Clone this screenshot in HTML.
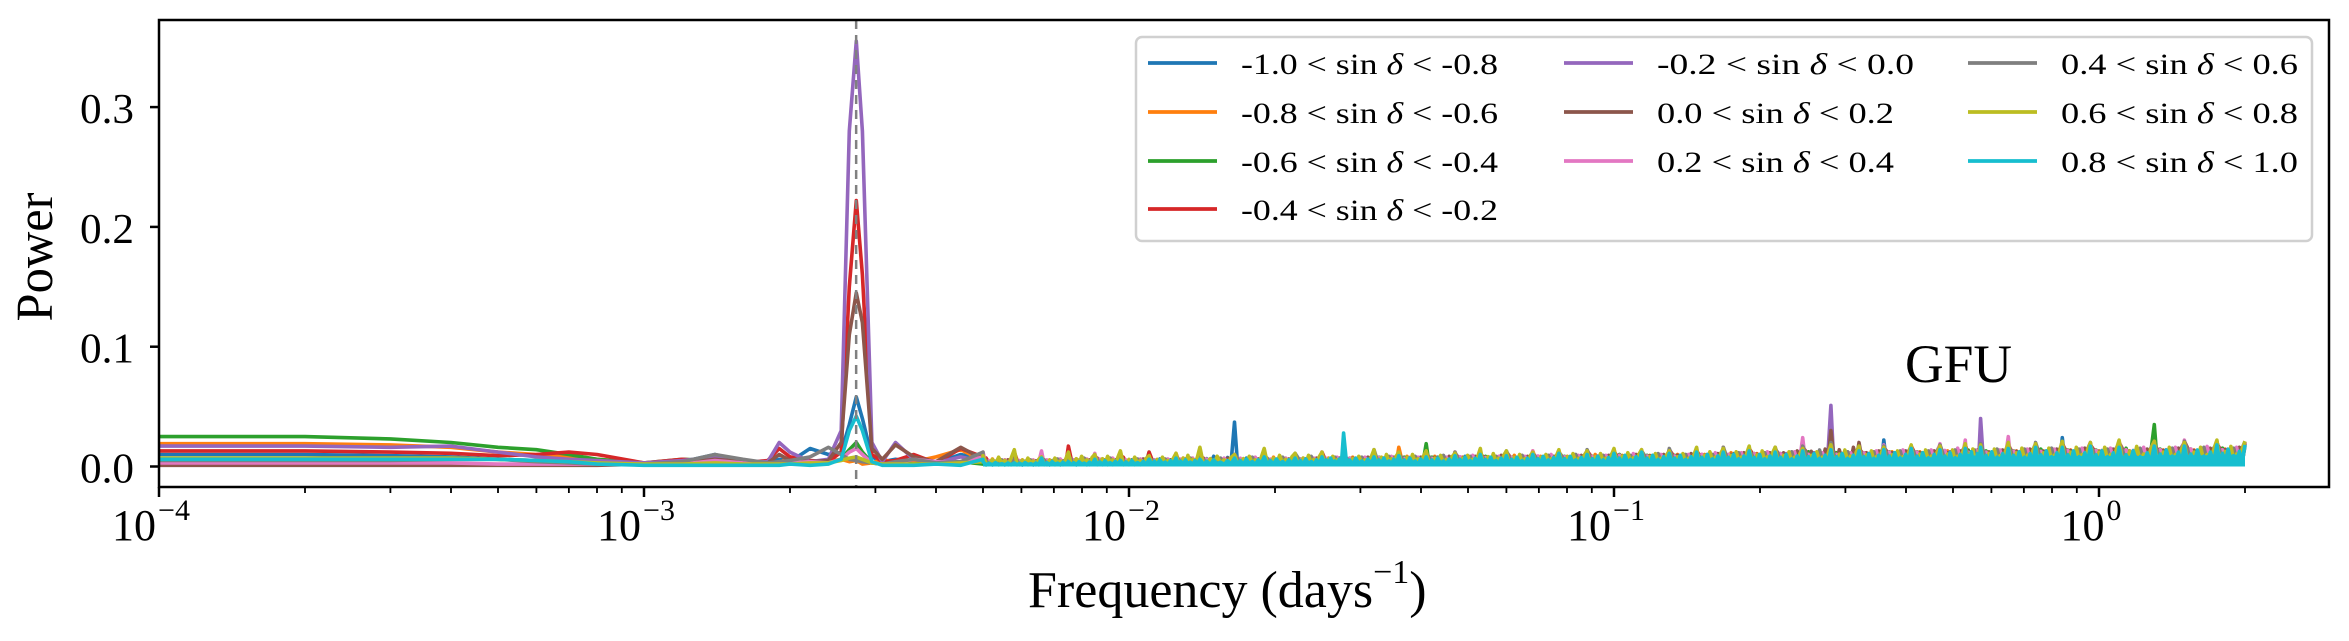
<!DOCTYPE html>
<html><head><meta charset="utf-8"><title>GFU periodogram</title>
<style>
html,body{margin:0;padding:0;background:#fff;}
svg{display:block;font-family:"Liberation Serif","DejaVu Serif",serif;}
</style></head>
<body>
<svg id="chart" width="2349" height="641" viewBox="0 0 2349 641" xmlns="http://www.w3.org/2000/svg">
<defs><clipPath id="plotclip"><rect x="159" y="20" width="2170" height="467"/></clipPath></defs>
<rect x="0" y="0" width="2349" height="641" fill="#fff"/>
<g id="series" clip-path="url(#plotclip)"></g>
<line id="vline" stroke="#808080" stroke-width="2.5" stroke-dasharray="9,6"/>
<rect x="159" y="20" width="2170" height="467" fill="none" stroke="#000" stroke-width="2.5"/>
<g id="axes"></g>
<text transform="translate(52,257) rotate(-90)" text-anchor="middle" font-size="52" textLength="129" lengthAdjust="spacingAndGlyphs">Power</text>
<text x="1028" y="607" font-size="52">Frequency (days<tspan font-size="34" dy="-24">−1</tspan><tspan dy="24">)</tspan></text>
<text x="1905" y="382" font-size="54" textLength="107" lengthAdjust="spacingAndGlyphs">GFU</text>
<g id="legend"></g>
</svg>
<script>
// ---- data ----
const seriesNames = ["-1.0 < sin δ < -0.8","-0.8 < sin δ < -0.6","-0.6 < sin δ < -0.4","-0.4 < sin δ < -0.2","-0.2 < sin δ < 0.0","0.0 < sin δ < 0.2","0.2 < sin δ < 0.4","0.4 < sin δ < 0.6","0.6 < sin δ < 0.8","0.8 < sin δ < 1.0"];
const seriesColors = ["#1f77b4","#ff7f0e","#2ca02c","#d62728","#9467bd","#8c564b","#e377c2","#7f7f7f","#bcbd22","#17becf"];
const yTicks = [0.0,0.1,0.2,0.3];
const yTickLabels = ["0.0","0.1","0.2","0.3"];
const xTickExps = [-4,-3,-2,-1,0];
const yearFreq = 0.002738;
const lowFreqs = [0.0001,0.0002,0.0003,0.0004,0.0005,0.0006,0.0007,0.0008,0.001,0.0012,0.0014,0.0016,0.0018,0.0019,0.002,0.0022,0.0024,0.00255,0.00265,0.00274,0.00282,0.00295,0.0031,0.0033,0.0036,0.004,0.0045,0.005];
const low0 = [0.010,0.010,0.009,0.008,0.006,0.005,0.004,0.003,0.002,0.004,0.010,0.004,0.003,0.006,0.004,0.015,0.010,0.012,0.035,0.058,0.040,0.008,0.004,0.006,0.004,0.003,0.010,0.006];
const low1 = [0.019,0.019,0.018,0.016,0.012,0.010,0.008,0.006,0.003,0.004,0.003,0.004,0.002,0.003,0.008,0.003,0.004,0.006,0.004,0.005,0.002,0.003,0.006,0.003,0.004,0.008,0.014,0.005];
const low2 = [0.025,0.025,0.023,0.020,0.016,0.014,0.010,0.006,0.003,0.006,0.005,0.003,0.002,0.002,0.003,0.002,0.003,0.006,0.014,0.020,0.012,0.003,0.002,0.003,0.002,0.003,0.004,0.002];
const low3 = [0.013,0.013,0.012,0.011,0.009,0.010,0.012,0.010,0.003,0.006,0.004,0.003,0.005,0.015,0.008,0.005,0.004,0.012,0.150,0.222,0.160,0.010,0.004,0.005,0.010,0.003,0.015,0.008];
const low4 = [0.017,0.017,0.016,0.017,0.012,0.008,0.006,0.005,0.003,0.005,0.008,0.004,0.004,0.020,0.012,0.004,0.006,0.030,0.280,0.355,0.280,0.020,0.004,0.020,0.006,0.003,0.008,0.004];
const low5 = [0.001,0.001,0.001,0.001,0.001,0.001,0.001,0.001,0.002,0.003,0.006,0.004,0.003,0.010,0.005,0.004,0.005,0.020,0.110,0.145,0.120,0.015,0.006,0.018,0.008,0.004,0.016,0.006];
const low6 = [0.003,0.003,0.003,0.003,0.002,0.002,0.002,0.002,0.002,0.002,0.005,0.003,0.002,0.004,0.003,0.004,0.003,0.006,0.012,0.015,0.010,0.003,0.002,0.003,0.006,0.004,0.003,0.008];
const low7 = [0.005,0.005,0.005,0.006,0.006,0.004,0.003,0.002,0.002,0.004,0.010,0.006,0.003,0.004,0.005,0.008,0.016,0.010,0.006,0.005,0.004,0.003,0.002,0.004,0.006,0.003,0.004,0.012];
const low8 = [0.007,0.007,0.007,0.007,0.006,0.005,0.004,0.003,0.002,0.002,0.003,0.002,0.002,0.002,0.002,0.003,0.003,0.005,0.007,0.008,0.006,0.003,0.002,0.002,0.002,0.002,0.003,0.004];
const low9 = [0.006,0.006,0.006,0.006,0.006,0.005,0.004,0.002,0.001,0.001,0.001,0.001,0.001,0.001,0.002,0.001,0.002,0.006,0.030,0.042,0.030,0.004,0.001,0.001,0.001,0.002,0.001,0.006];
const noiseFreqs = [0.005,0.0058,0.0066,0.0075,0.0085,0.0096,0.011,0.0125,0.014,0.0165,0.019,0.022,0.025,0.0277,0.032,0.036,0.041,0.047,0.053,0.06,0.068,0.077,0.088,0.1,0.114,0.13,0.148,0.168,0.19,0.215,0.245,0.28,0.32,0.36,0.41,0.47,0.53,0.57,0.65,0.74,0.84,0.96,1.1,1.3,1.5,1.75,2.0];
const noise0 = [0.006,0.004,0.007,0.005,0.008,0.006,0.009,0.007,0.010,0.037,0.008,0.006,0.010,0.007,0.012,0.008,0.009,0.011,0.010,0.008,0.012,0.009,0.011,0.010,0.013,0.011,0.012,0.015,0.013,0.012,0.014,0.016,0.013,0.022,0.014,0.016,0.015,0.020,0.014,0.016,0.024,0.015,0.017,0.016,0.018,0.015,0.017];
const noise1 = [0.007,0.010,0.006,0.008,0.007,0.009,0.006,0.011,0.008,0.007,0.010,0.009,0.008,0.011,0.009,0.016,0.010,0.012,0.009,0.011,0.013,0.010,0.012,0.014,0.011,0.013,0.012,0.016,0.014,0.013,0.015,0.018,0.014,0.016,0.015,0.017,0.016,0.015,0.018,0.016,0.017,0.019,0.016,0.018,0.017,0.019,0.018];
const noise2 = [0.004,0.006,0.005,0.009,0.006,0.005,0.012,0.006,0.007,0.008,0.006,0.010,0.007,0.008,0.011,0.009,0.019,0.009,0.010,0.012,0.009,0.011,0.010,0.013,0.012,0.011,0.014,0.012,0.015,0.013,0.016,0.015,0.014,0.017,0.015,0.016,0.018,0.017,0.016,0.018,0.020,0.017,0.019,0.035,0.018,0.021,0.019];
const noise3 = [0.008,0.012,0.006,0.017,0.008,0.009,0.012,0.007,0.008,0.009,0.007,0.008,0.012,0.009,0.008,0.010,0.009,0.011,0.010,0.012,0.011,0.010,0.013,0.012,0.011,0.014,0.013,0.012,0.015,0.014,0.016,0.020,0.015,0.016,0.017,0.015,0.019,0.016,0.018,0.017,0.019,0.018,0.020,0.018,0.021,0.019,0.020];
const noise4 = [0.005,0.004,0.006,0.005,0.007,0.006,0.008,0.007,0.006,0.008,0.007,0.009,0.008,0.010,0.009,0.011,0.010,0.009,0.011,0.010,0.012,0.011,0.013,0.012,0.011,0.013,0.012,0.014,0.013,0.015,0.016,0.051,0.015,0.017,0.016,0.018,0.017,0.040,0.017,0.019,0.018,0.020,0.019,0.021,0.020,0.019,0.021];
const noise5 = [0.006,0.009,0.005,0.007,0.006,0.008,0.007,0.006,0.009,0.008,0.007,0.009,0.008,0.009,0.010,0.009,0.011,0.010,0.012,0.011,0.010,0.012,0.011,0.013,0.012,0.014,0.013,0.015,0.014,0.016,0.018,0.030,0.020,0.016,0.017,0.016,0.018,0.017,0.019,0.018,0.020,0.019,0.018,0.020,0.019,0.021,0.020];
const noise6 = [0.012,0.006,0.013,0.007,0.011,0.008,0.007,0.009,0.008,0.010,0.009,0.008,0.010,0.009,0.011,0.010,0.009,0.012,0.011,0.010,0.013,0.012,0.011,0.013,0.014,0.012,0.015,0.014,0.016,0.015,0.024,0.014,0.016,0.018,0.017,0.019,0.022,0.017,0.025,0.018,0.020,0.019,0.021,0.020,0.022,0.021,0.020];
const noise7 = [0.008,0.006,0.007,0.009,0.008,0.010,0.007,0.009,0.008,0.010,0.009,0.011,0.010,0.009,0.014,0.010,0.011,0.012,0.010,0.013,0.011,0.012,0.014,0.011,0.013,0.015,0.012,0.016,0.014,0.015,0.017,0.020,0.015,0.017,0.016,0.018,0.017,0.019,0.018,0.020,0.019,0.018,0.020,0.019,0.021,0.020,0.019];
const noise8 = [0.009,0.014,0.008,0.012,0.010,0.013,0.009,0.011,0.016,0.010,0.015,0.011,0.012,0.010,0.014,0.012,0.013,0.011,0.015,0.013,0.012,0.014,0.013,0.015,0.014,0.013,0.016,0.015,0.017,0.016,0.015,0.018,0.017,0.016,0.018,0.017,0.019,0.018,0.020,0.019,0.021,0.020,0.022,0.021,0.020,0.022,0.021];
const noise9 = [0.004,0.003,0.007,0.004,0.006,0.005,0.006,0.007,0.006,0.007,0.008,0.007,0.008,0.028,0.008,0.009,0.008,0.009,0.010,0.009,0.010,0.011,0.010,0.011,0.012,0.011,0.012,0.012,0.013,0.012,0.013,0.014,0.013,0.014,0.015,0.014,0.015,0.016,0.015,0.016,0.016,0.017,0.016,0.017,0.017,0.018,0.018];
const lowSeries = [low0,low1,low2,low3,low4,low5,low6,low7,low8,low9];
const noiseSeries = [noise0,noise1,noise2,noise3,noise4,noise5,noise6,noise7,noise8,noise9];
const noiseFloor = 0.001;

// ---- axes ----
const X0=159, DEC=485, Y0=466.5, YPER=1198;
function xScale(f){ return X0 + (Math.log10(f)+4)*DEC; }
function yScale(v){ return Y0 - v*YPER; }
const NS="http://www.w3.org/2000/svg";
function mk(tag, attrs, parent){ const e=document.createElementNS(NS,tag); for(const k in attrs) e.setAttribute(k,attrs[k]); parent.appendChild(e); return e; }

// rendering style: sub-spike shape factors between sampled peaks
const subShape=[0.15,0.55,0.1,0.75,0.2,0.45,0.1,0.65,0.15];
const sg=document.getElementById('series');
for(let s=0;s<10;s++){
  let pts=[];
  lowFreqs.forEach((f,i)=>pts.push(xScale(f).toFixed(1)+","+yScale(lowSeries[s][i]).toFixed(1)));
  const nz=noiseSeries[s];
  let poly=[xScale(noiseFreqs[0]).toFixed(1)+","+yScale(0).toFixed(1)];
  for(let i=0;i<noiseFreqs.length;i++){
    const f=noiseFreqs[i];
    pts.push(xScale(f).toFixed(1)+","+yScale(nz[i]).toFixed(1));
    poly.push(xScale(f).toFixed(1)+","+yScale(nz[i]*0.75).toFixed(1));
    if(i<noiseFreqs.length-1){
      const xa=xScale(f), xb=xScale(noiseFreqs[i+1]);
      const base=Math.min(nz[i],nz[i+1]);
      for(let k=0;k<subShape.length;k++){
        const x=xa+(xb-xa)*(k+1)/(subShape.length+1);
        const v=noiseFloor+base*subShape[(k+s)%subShape.length];
        pts.push(x.toFixed(1)+","+yScale(v).toFixed(1));
        poly.push(x.toFixed(1)+","+yScale(Math.max(v,base*0.55)).toFixed(1));
      }
    }
  }
  if(s===9){
    poly.push(xScale(noiseFreqs[noiseFreqs.length-1]).toFixed(1)+","+yScale(0).toFixed(1));
    const band=mk('polygon',{points:poly.join(' '),fill:seriesColors[9]},sg);
    
    
  }
  const pl=mk('polyline',{points:pts.join(' '),fill:'none',stroke:seriesColors[s],'stroke-width':3.6,'stroke-linejoin':'round'},sg);
  
  
}
const vl=document.getElementById('vline');
vl.setAttribute('x1',xScale(yearFreq)); vl.setAttribute('x2',xScale(yearFreq));
vl.setAttribute('y1',20); vl.setAttribute('y2',487);

const ax=document.getElementById('axes');
yTicks.forEach((v,i)=>{
  const y=yScale(v);
  const t=mk('line',{x1:150,x2:159,y1:y,y2:y,stroke:'#000','stroke-width':2.5},ax);
  
  
  const lb=mk('text',{x:134,y:y+16,'text-anchor':'end','font-size':42,textLength:54,lengthAdjust:'spacingAndGlyphs'},ax);
  lb.textContent=yTickLabels[i];
  
  
});
for(let e=-4;e<=0;e++){
  for(let m=1;m<=9;m++){
    const f=m*Math.pow(10,e); const x=xScale(f);
    if(x>2329) continue;
    const t=mk('line',{x1:x,x2:x,y1:487,y2:m===1?497:493,stroke:'#000','stroke-width':m===1?2.5:1.8},ax);
    
    
  }
}
xTickExps.forEach(e=>{
  const x=xScale(Math.pow(10,e));
  const lb=mk('text',{x:x-8,y:540,'text-anchor':'middle','font-size':44},ax);
  lb.textContent='10';
  const sup=mk('tspan',{'font-size':30,dy:-20,dx:2},lb);
  sup.textContent=(e<0?'−':'')+Math.abs(e);
  
  
});

// ---- legend ----
const lg=document.getElementById('legend');
const box=mk('rect',{x:1136,y:37,width:1176,height:204,rx:6,fill:'#fff','fill-opacity':0.8,stroke:'#d0d0d0','stroke-width':2.5},lg);


const colX=[1148,1564,1968], rowY=[63,112,161,209];
const order=[[0,0],[0,1],[0,2],[0,3],[1,0],[1,1],[1,2],[2,0],[2,1],[2,2]];
order.forEach((cr,s)=>{
  const x=colX[cr[0]], y=rowY[cr[1]];
  const ln=mk('line',{x1:x,x2:x+69,y1:y,y2:y,stroke:seriesColors[s],'stroke-width':3.8},lg);
  
  
  const parts=seriesNames[s].split('δ');
  const tx=mk('text',{x:x+93,y:y+11,'font-size':30,textLength:seriesNames[s].startsWith('-')?257:237,lengthAdjust:'spacingAndGlyphs'},lg);
  const a=mk('tspan',{},tx); a.textContent=parts[0];
  const d=mk('tspan',{'font-style':'italic'},tx); d.textContent='δ';
  const b=mk('tspan',{},tx); b.textContent=parts[1];
  
  
});
</script>
</body></html>
